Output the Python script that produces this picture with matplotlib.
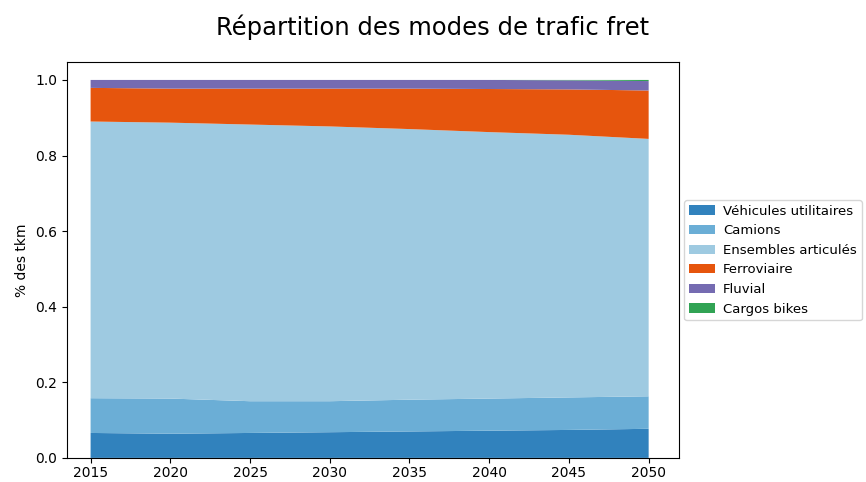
import numpy as np
import matplotlib.pyplot as plt

years = [2015, 2020, 2025, 2030, 2035, 2040, 2045, 2050]

vul = [0.066, 0.064, 0.066, 0.068, 0.070, 0.072, 0.074, 0.077]
camions = [0.092, 0.093, 0.084, 0.082, 0.084, 0.085, 0.086, 0.086]
articules = [0.732, 0.730, 0.732, 0.727, 0.716, 0.705, 0.695, 0.681]
ferroviaire = [0.089, 0.090, 0.095, 0.100, 0.107, 0.114, 0.120, 0.128]
fluvial = [0.021, 0.023, 0.023, 0.023, 0.023, 0.024, 0.024, 0.025]
cargos = [0.000, 0.000, 0.000, 0.000, 0.000, 0.000, 0.001, 0.003]

labels = ['Véhicules utilitaires', 'Camions', 'Ensembles articulés',
          'Ferroviaire', 'Fluvial', 'Cargos bikes']
colors = ['#3182bd', '#6baed6', '#9ecae1', '#e6550d', '#756bb1', '#31a354']

fig = plt.figure(figsize=(8.66, 4.82), dpi=100)
ax = fig.add_axes([0.077, 0.05, 0.707, 0.821])

ax.stackplot(years, vul, camions, articules, ferroviaire, fluvial, cargos,
             labels=labels, colors=colors)
ax.set_ylabel('% des tkm')
ax.set_xticks(range(2015, 2051, 5))
ax.set_yticks(np.arange(0, 1.01, 0.2))
ax.tick_params(axis='x', pad=2.5)
ax.set_ylim(0, 1.047)
ax.set_xlim(2013.5, 2051.9)
ax.legend(loc='center left', bbox_to_anchor=(1, 0.5), fontsize=9.5,
          borderaxespad=0.4, handletextpad=0.6, borderpad=0.35)

fig.suptitle('Répartition des modes de trafic fret', fontsize=17.5, y=0.97)

fig.savefig('out.png', dpi=100)
